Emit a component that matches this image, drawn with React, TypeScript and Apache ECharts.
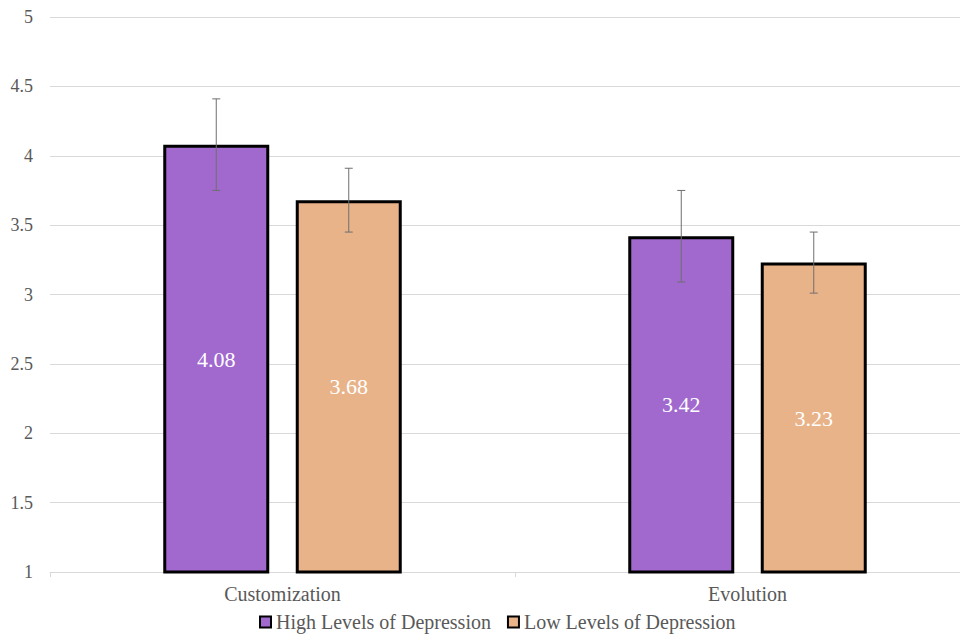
import React, { useEffect, useRef } from "react";
import * as echarts from "echarts";

const categories = ["Customization", "Evolution"];
const seriesNames = ["High Levels of Depression", "Low Levels of Depression"];
const highValues = [4.08, 3.42];
const lowValues = [3.68, 3.23];
const highErrors = [0.33, 0.33];
const lowErrors = [0.23, 0.22];
const colors = ["#A168CE", "#E9B38A"];

const FONT = "Liberation Serif";
const BAR_WIDTH = 106;
const BAR_GAP = 0.25;

function errorSeries(values: number[], errs: number[], offset: number) {
  return {
    type: "custom",
    silent: true,
    z: 5,
    data: values.map((v, i) => [i, v - errs[i], v + errs[i]]),
    encode: { x: 0, y: [1, 2] },
    renderItem: (params: any, api: any) => {
      const lo = api.coord([api.value(0), api.value(1)]);
      const hi = api.coord([api.value(0), api.value(2)]);
      const x = lo[0] + offset;
      const cap = 4;
      const style = { stroke: "#6f6f6f", lineWidth: 1 };
      return {
        type: "group",
        children: [
          { type: "line", shape: { x1: x, y1: lo[1], x2: x, y2: hi[1] }, style },
          { type: "line", shape: { x1: x - cap, y1: lo[1], x2: x + cap, y2: lo[1] }, style },
          { type: "line", shape: { x1: x - cap, y1: hi[1], x2: x + cap, y2: hi[1] }, style },
        ],
      };
    },
  };
}

export default function App() {
  const ref = useRef<HTMLDivElement>(null);
  useEffect(() => {
    if (!ref.current) return;
    const chart = echarts.init(ref.current, undefined, { renderer: "svg" });
    const half = (BAR_WIDTH * (1 + BAR_GAP)) / 2;
    const barLabel = {
      show: true,
      position: "inside",
      color: "#ffffff",
      fontFamily: FONT,
      fontSize: 22,
      formatter: (p: any) => p.value.toFixed(2),
    };
    chart.setOption({
      animation: false,
      backgroundColor: "#ffffff",
      grid: { left: 50, right: 0, top: 17, bottom: 70, containLabel: false },
      legend: {
        data: seriesNames,
        left: 254,
        top: 607,
        itemWidth: 11,
        itemHeight: 11,
        itemGap: 16,
        icon: "rect",
        textStyle: { fontFamily: FONT, fontSize: 20, color: "#595959" },
        itemStyle: { borderColor: "#000", borderWidth: 2 },
      },
      xAxis: {
        type: "category",
        data: categories,
        axisLine: { lineStyle: { color: "#d9d9d9", width: 1 } },
        axisTick: { show: true, length: 5, lineStyle: { color: "#d9d9d9" } },
        axisLabel: { fontFamily: FONT, fontSize: 20, color: "#595959", margin: 12 },
      },
      yAxis: {
        type: "value",
        min: 1,
        max: 5,
        interval: 0.5,
        axisLine: { show: false },
        axisTick: { show: false },
        splitLine: { lineStyle: { color: "#d9d9d9", width: 1 } },
        axisLabel: { fontFamily: FONT, fontSize: 18, color: "#595959", margin: 17 },
      },
      series: [
        {
          name: seriesNames[0],
          type: "bar",
          data: highValues,
          barWidth: BAR_WIDTH,
          barGap: BAR_GAP * 100 + "%",
          itemStyle: { color: colors[0], borderColor: "#000", borderWidth: 3 },
          label: barLabel,
        },
        {
          name: seriesNames[1],
          type: "bar",
          data: lowValues,
          barWidth: BAR_WIDTH,
          barGap: BAR_GAP * 100 + "%",
          itemStyle: { color: colors[1], borderColor: "#000", borderWidth: 3 },
          label: barLabel,
        },
        errorSeries(highValues, highErrors, -half),
        errorSeries(lowValues, lowErrors, half),
      ],
    });
    return () => chart.dispose();
  }, []);
  return (
    <div style={{ width: 968, height: 642, margin: -8, overflow: "hidden", position: "relative" }}>
      <div ref={ref} style={{ width: 980, height: 642 }} />
    </div>
  );
}
